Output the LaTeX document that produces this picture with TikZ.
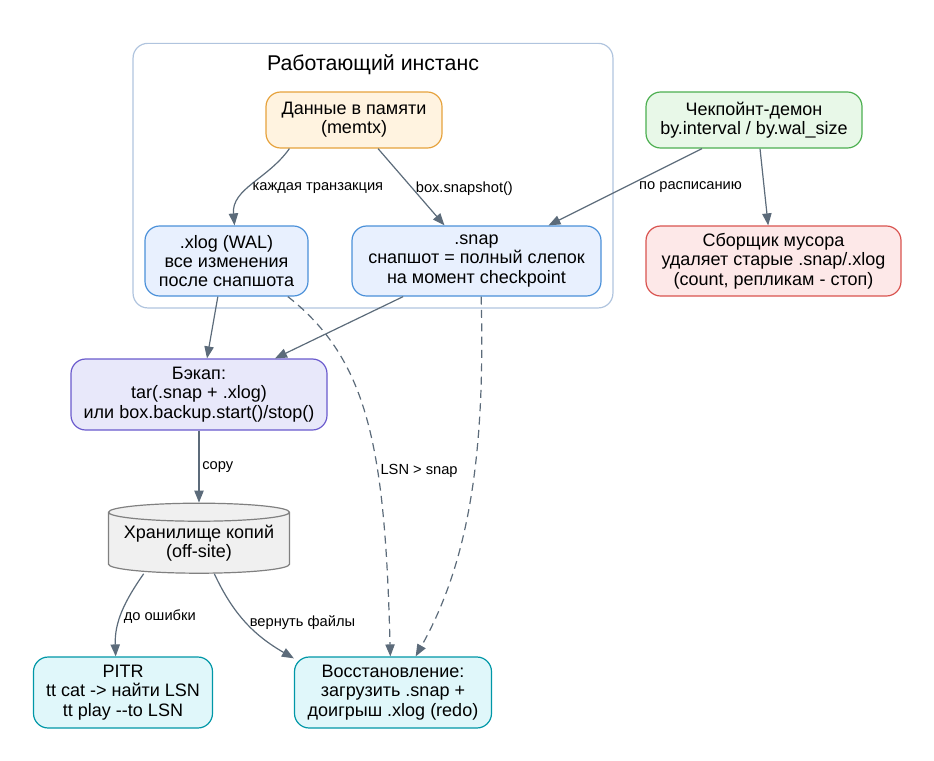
\documentclass[tikz,border=0pt]{standalone}
\usepackage{fontspec}
\setmainfont{Liberation Sans}
\usepackage{xcolor}
\usetikzlibrary{positioning, arrows.meta, shapes.geometric, fit}

\definecolor{edgecol}{HTML}{5C6B7A}
\definecolor{clustcol}{HTML}{B0C4DE}
\definecolor{memfill}{HTML}{FFF3E0}
\definecolor{memdraw}{HTML}{E6A23C}
\definecolor{filefill}{HTML}{E8F0FE}
\definecolor{filedraw}{HTML}{4A90D9}
\definecolor{ckfill}{HTML}{E8F8E8}
\definecolor{ckdraw}{HTML}{4CAF50}
\definecolor{gcfill}{HTML}{FDE8E8}
\definecolor{gcdraw}{HTML}{D9534F}
\definecolor{bkfill}{HTML}{E8E8FA}
\definecolor{bkdraw}{HTML}{6A5ACD}
\definecolor{stfill}{HTML}{F0F0F0}
\definecolor{stdraw}{HTML}{808080}
\definecolor{rsfill}{HTML}{E0F7FA}
\definecolor{rsdraw}{HTML}{0097A7}

\begin{document}
\begin{tikzpicture}[
        % Define common styles for the nodes and text
        on grid,
        box/.style={draw, rectangle, rounded corners=11pt, line width=0.9pt, align=center, inner sep=0pt, font=\fontsize{13.5}{14.5}\selectfont},
        textnode/.style={align=center, inner sep=0pt, font=\fontsize{16}{18}\selectfont},
        lbl/.style={font=\fontsize{11}{12}\selectfont, inner sep=2pt},
        arrow/.style={-{Triangle[length=9pt, width=7pt]}, line width=0.9pt, draw=edgecol},
        dashline/.style={dash pattern=on 6pt off 4pt}
    ]

        \useasboundingbox (0pt,0pt) rectangle (700.5pt,-570pt);

        % Define the nodes
        \node[box, fill=memfill, draw=memdraw, minimum width=132pt, minimum height=42pt] (mem) at (265.5pt,-90pt) {Данные в памяти \\ (memtx)};

        \node[textnode, above right=41.25pt and 14.25pt of mem] (title) {Работающий инстанс};

        \node[box, fill=ckfill, draw=ckdraw, minimum width=162pt, minimum height=42pt, right=300pt of mem] (ckpt) {Чекпойнт-демон \\ by.interval / by.wal\_size};

        \node[box, fill=filefill, draw=filedraw, minimum width=122.25pt, minimum height=52.5pt, below left=105.75pt and 95.625pt of mem] (xlog) {.xlog (WAL) \\ все изменения \\ после снапшота};

        \node[box, fill=filefill, draw=filedraw, minimum width=186.75pt, minimum height=52.5pt, below right=105.75pt and 91.875pt of mem] (snap) {.snap \\ снапшот = полный слепок \\ на момент checkpoint};

        \node[box, fill=gcfill, draw=gcdraw, minimum width=191.25pt, minimum height=52.5pt, below right=105.75pt and 14.625pt of ckpt] (gc) {Сборщик мусора \\ удаляет старые .snap/.xlog \\ (count, репликам - стоп)};

        \node[box, fill=bkfill, draw=bkdraw, minimum width=192pt, minimum height=53.25pt, below left=100.125pt and 20.625pt of xlog] (backup) {Бэкап: \\ tar(.snap + .xlog) \\ или box.backup.start()/stop()};

        \node[cylinder, shape border rotate=90, aspect=0.12, draw=stdraw, fill=stfill, line width=0.9pt, align=center, inner sep=0pt, font=\fontsize{13.5}{14.5}\selectfont, minimum width=135.75pt, minimum height=52.5pt, below=111.375pt of backup] (storage) {Хранилище копий \\ (off-site)};

        \node[box, fill=rsfill, draw=rsdraw, minimum width=134.25pt, minimum height=53.25pt, below left=112.125pt and 57pt of storage] (pitr) {PITR \\ tt cat -> найти LSN \\ tt play -{}-to LSN};

        \node[box, fill=rsfill, draw=rsdraw, minimum width=147.75pt, minimum height=53.25pt, right=202.5pt of pitr] (restore) {Восстановление: \\ загрузить .snap + \\ доигрыш .xlog (redo)};

        % The instance frame
        \node[draw=clustcol, line width=0.9pt, rounded corners=11pt, inner sep=8.5pt, fit=(title)(mem)(xlog)(snap)] (inst) {};

        % Draw the arrows with labels
        \draw[arrow] ([xshift=18pt]mem.south west) to[out=235, in=95] node[lbl, right, pos=0.55] {каждая транзакция} ([xshift=6pt]xlog.north);

        \draw[arrow] ([xshift=18pt]mem.south) -- node[lbl, right, pos=0.52] {box.snapshot()} ([xshift=-24pt]snap.north);

        \draw[arrow] ([xshift=-39pt]ckpt.south) -- node[lbl, right=8pt] {по расписанию} ([xshift=54pt]snap.north);

        \draw[arrow] ([xshift=4.5pt]ckpt.south) -- ([xshift=-4pt]gc.north);

        \draw[arrow] ([xshift=-6.5pt]xlog.south) -- ([xshift=6pt]backup.north);

        \draw[arrow] ([xshift=-55pt]snap.south) -- ([xshift=57pt]backup.north);

        \draw[arrow, dashline] ([xshift=46pt]xlog.south) .. controls +(61pt,-48pt) and +(-4pt,155pt) .. node[lbl, right, pos=0.63] {LSN > snap} ([xshift=-2pt]restore.north);

        \draw[arrow, dashline] ([xshift=3.5pt]snap.south) .. controls +(3pt,-115pt) and +(41pt,73pt) .. ([xshift=17pt]restore.north);

        \draw[arrow] (backup) -- node[lbl, right] {copy} (storage);

        \draw[arrow] ([xshift=-41.5pt]storage.south) to[out=-125, in=92] node[lbl, right, pos=0.55] {до ошибки} ([xshift=-5.5pt]pitr.north);

        \draw[arrow] ([xshift=11.5pt]storage.south) to[out=-65, in=150] node[lbl, right, pos=0.5] {вернуть файлы} (restore.161);

    \end{tikzpicture}
\end{document}
